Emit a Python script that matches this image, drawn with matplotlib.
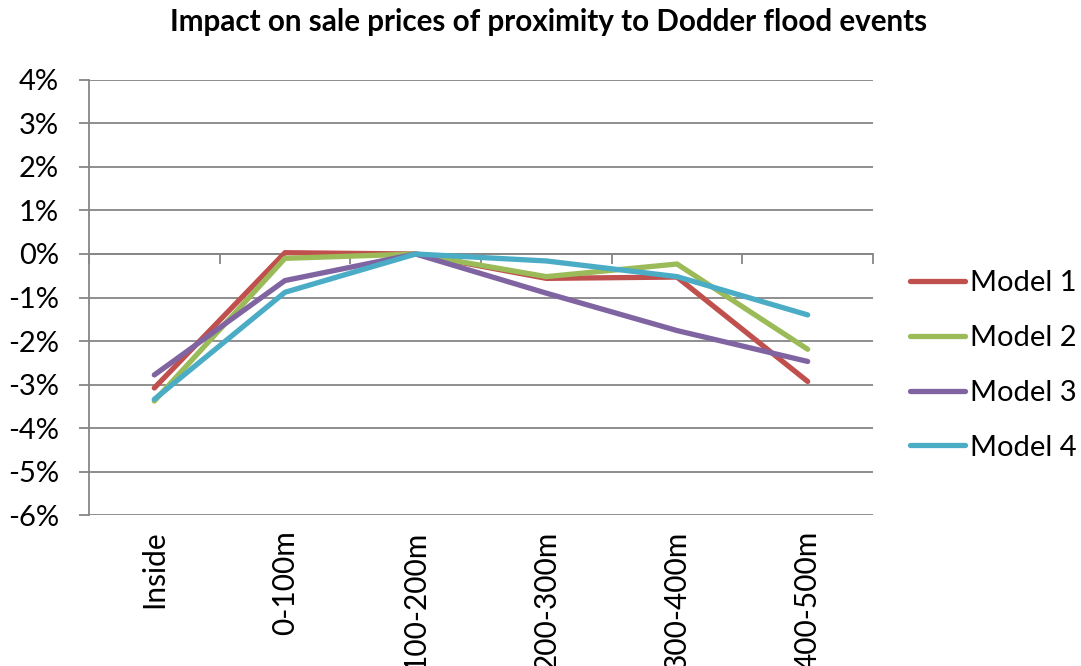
import matplotlib
matplotlib.use("Agg")
import matplotlib.pyplot as plt
import matplotlib.transforms as mtransforms
from matplotlib.ticker import FuncFormatter

plt.rcParams['font.family'] = ['Lato', 'DejaVu Sans']

# distance bands and estimated price effects (%)
bands = ["Inside", "0-100m", "100-200m", "200-300m", "300-400m", "400-500m"]
model_1 = [-3.08, 0.03, 0.0, -0.56, -0.53, -2.93]
model_2 = [-3.38, -0.10, 0.0, -0.52, -0.23, -2.19]
model_3 = [-2.78, -0.61, 0.0, -0.90, -1.76, -2.47]
model_4 = [-3.34, -0.88, 0.0, -0.16, -0.52, -1.40]
series_names = ["Model 1", "Model 2", "Model 3", "Model 4"]
colors = ["#C0504D", "#9BBB59", "#8064A2", "#4BACC6"]

grid_col = "#868686"

fig = plt.figure(figsize=(10.81, 6.66), dpi=100)
ax = fig.add_axes([0.0823, 0.2267, 0.7253, 0.6532])

x = list(range(len(bands)))
for vals, name, c in zip([model_1, model_2, model_3, model_4], series_names, colors):
    ax.plot(x, vals, color=c, linewidth=3.8, label=name,
            solid_capstyle='round', solid_joinstyle='round', zorder=3)

ax.set_xlim(-0.5, len(bands) - 0.5)
ax.set_ylim(-6, 4)
ax.set_yticks(range(-6, 5))
ax.yaxis.set_major_formatter(FuncFormatter(lambda v, p: f"{v:.0f}%"))
ax.grid(axis='y', color=grid_col, linewidth=1.3, zorder=1)
ax.tick_params(axis='y', length=7.5, width=1.3, color=grid_col,
               labelsize=21, pad=14)

# category axis crosses at 0%, labels stay at the bottom
for s in ['top', 'right']:
    ax.spines[s].set_visible(False)
ax.spines['left'].set_color(grid_col)
ax.spines['left'].set_linewidth(1.3)
ax.spines['bottom'].set_position(('data', 0))
ax.spines['bottom'].set_color(grid_col)
ax.spines['bottom'].set_linewidth(1.3)
ax.set_xticks(x)
ax.set_xticklabels([])
ax.set_xticks([i - 0.5 for i in range(len(bands) + 1)], minor=True)
ax.tick_params(axis='x', which='major', length=0)
ax.tick_params(axis='x', which='minor', length=7.5, width=1.3, color=grid_col,
               direction='out')

trans = mtransforms.blended_transform_factory(ax.transData, ax.transAxes)
for i, lab in enumerate(bands):
    ax.text(i, -0.035, lab, transform=trans, rotation=90, ha='center',
            va='top', fontsize=21.5)

fig.suptitle("Impact on sale prices of proximity to Dodder flood events",
             x=0.507, y=0.988, fontsize=21.3, fontweight='bold')

ax.legend(loc='center left', bbox_to_anchor=(1.047, 0.344), frameon=False,
          fontsize=21, handlelength=1.9, handletextpad=0.17, labelspacing=0.99,
          borderaxespad=0, borderpad=0)

fig.savefig("out.png", dpi=100)
